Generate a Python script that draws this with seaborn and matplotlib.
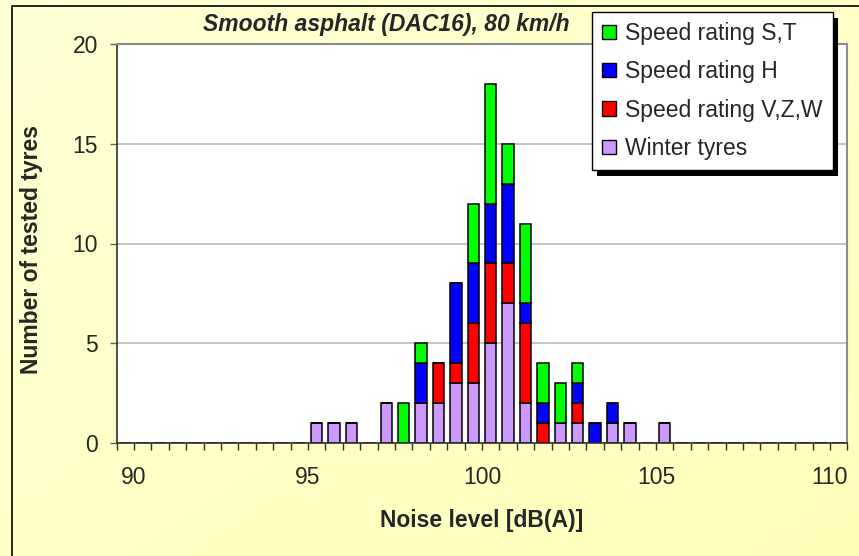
import numpy as np
import pandas as pd
import matplotlib
matplotlib.use("Agg")
import matplotlib.pyplot as plt
from matplotlib.patches import Patch, Rectangle
from matplotlib.ticker import MultipleLocator
from matplotlib.transforms import IdentityTransform
from matplotlib.colors import LinearSegmentedColormap
import seaborn as sns

# classes of 0.5 dB (bin centres) and number of tyres per class
noise_db = [95.25, 95.75, 96.25, 97.25, 97.75, 98.25, 98.75, 99.25, 99.75,
            100.25, 100.75, 101.25, 101.75, 102.25, 102.75, 103.25, 103.75,
            104.25, 105.25]
n_winter = [1, 1, 1, 2, 0, 2, 2, 3, 3, 5, 7, 2, 0, 1, 1, 0, 1, 1, 1]
n_vzw = [0, 0, 0, 0, 0, 0, 2, 1, 3, 4, 2, 4, 1, 0, 1, 0, 0, 0, 0]
n_h = [0, 0, 0, 0, 0, 2, 0, 4, 3, 3, 4, 1, 1, 0, 1, 1, 1, 0, 0]
n_st = [0, 0, 0, 0, 2, 1, 0, 0, 3, 6, 2, 4, 2, 2, 1, 0, 0, 0, 0]

grupos = ["Speed rating S,T", "Speed rating H", "Speed rating V,Z,W", "Winter tyres"]
cores = ["#00FF00", "#0000FF", "#FF0000", "#CC99FF"]
x_ticks = [90, 95, 100, 105, 110]
x_ticklabels = ["90", "95", "100", "105", "110"]
y_ticks = [0, 5, 10, 15, 20]

df = pd.DataFrame({
    "noise": noise_db * 4,
    "grupo": np.repeat(grupos, len(noise_db)),
    "n": n_st + n_h + n_vzw + n_winter,
})

sns.set_style("white")
plt.rcParams["font.family"] = ["Liberation Sans", "DejaVu Sans"]

W, H = 859, 556
fig = plt.figure(figsize=(W / 100, H / 100), dpi=100)

# fundo amarelo com leve gradiente
bg = fig.add_axes([0, 0, 1, 1], zorder=-10)
cmap_bg = LinearSegmentedColormap.from_list("bg", ["#FFFFD6", "#FFFFBA"])
gx, gy = np.meshgrid(np.linspace(0, 1, 200), np.linspace(0, 1, 200))
bg.imshow((gx + gy) / 2, cmap=cmap_bg, aspect="auto", extent=[0, 1, 0, 1], origin="upper")
bg.axis("off")

ax = fig.add_axes([116.7 / W, 1 - 442.7 / H, (847.3 - 116.7) / W, (442.7 - 44.3) / H])
ax.set_facecolor("white")

sns.histplot(data=df, x="noise", weights="n", hue="grupo", hue_order=grupos,
             palette=cores, multiple="stack", binwidth=0.5, binrange=(89.5, 110.5),
             shrink=0.66, alpha=1, edgecolor="black", linewidth=1.1,
             legend=False, ax=ax)

ax.set_xlim(89.5, 110.5)
ax.set_ylim(0, 20)
ax.set_xticks(x_ticks, x_ticklabels)
ax.xaxis.set_minor_locator(MultipleLocator(0.5))
ax.set_yticks(y_ticks)
ax.set_axisbelow(True)
ax.yaxis.grid(True, color="#B4B4B4", linewidth=1.1)
ax.xaxis.grid(False)

ax.tick_params(axis="x", which="both", direction="out", length=5, width=1,
               color="#303030", pad=12, labelsize=16.5, bottom=True)
ax.tick_params(axis="y", direction="out", length=5, width=1, color="#606060",
               pad=8.5, labelsize=16.5, left=True)

for s in ["left", "bottom"]:
    ax.spines[s].set_color("#303030")
    ax.spines[s].set_linewidth(1.2)
for s in ["top", "right"]:
    ax.spines[s].set_color("#8C8C8C")
    ax.spines[s].set_linewidth(1.5)

ax.set_xlabel("Noise level [dB(A)]", fontsize=16.5, fontweight="bold", va="center")
ax.xaxis.set_label_coords(481.7 / W, 1 - 520 / H, transform=fig.transFigure)
ax.set_ylabel("Number of tested tyres", fontsize=16.5, fontweight="bold", va="center")
ax.yaxis.set_label_coords(31.7 / W, 1 - 250 / H, transform=fig.transFigure)

fig.text(386.7 / W, 1 - 24 / H, "Smooth asphalt (DAC16), 80 km/h", fontsize=16.5,
         fontweight="bold", fontstyle="italic", ha="center", va="center")

handles = [Patch(facecolor=c, edgecolor="black", linewidth=1, label=g)
           for c, g in zip(cores, grupos)]
leg = fig.legend(handles=handles, loc="upper left",
                 bbox_to_anchor=(592.3 / W, 1 - 12.3 / H, 241 / W, 0), mode="expand",
                 fontsize=16.5, handlelength=0.6, handleheight=0.6, handletextpad=0.4,
                 labelspacing=0.67, borderpad=0.42, borderaxespad=0,
                 fancybox=False, framealpha=1, edgecolor="black")
leg.get_frame().set_linewidth(1.0)

# sombra preta da legenda e moldura do gráfico
fig.canvas.draw()
bb = leg.get_window_extent()
sombra = Rectangle((bb.x0 + 5, bb.y0 - 6), bb.width, bb.height, facecolor="black",
                   edgecolor="none", transform=IdentityTransform(), zorder=4.5)
fig.add_artist(sombra)
moldura = Rectangle((11.7, -20), W + 40, H - 5.7 + 20, fill=False, edgecolor="black",
                    linewidth=1.2, transform=IdentityTransform(), zorder=10)
fig.add_artist(moldura)

fig.savefig("out.png", dpi=100)
